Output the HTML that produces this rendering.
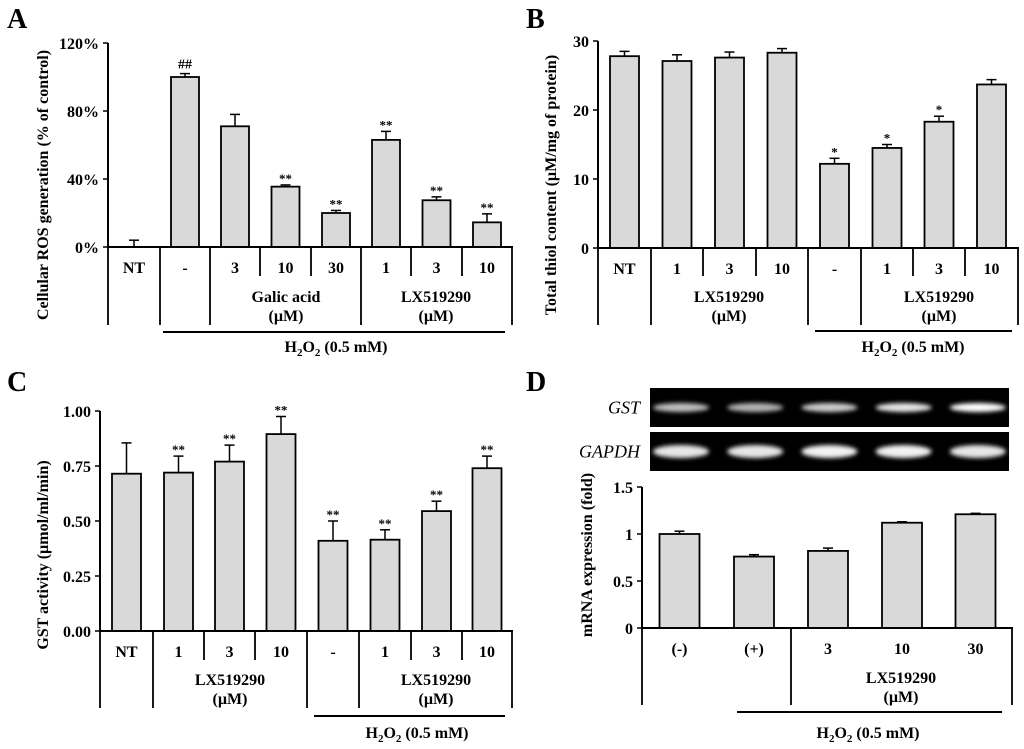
<!DOCTYPE html>
<html><head><meta charset="utf-8"><style>
html,body{margin:0;padding:0;background:#fff;}
svg{display:block;font-family:"Liberation Serif",serif;font-weight:bold;}
</style></head><body>
<svg id="fig" width="1024" height="749" viewBox="0 0 1024 749" xmlns="http://www.w3.org/2000/svg">
<defs><filter id="blur" x="-50%" y="-100%" width="200%" height="300%"><feGaussianBlur stdDeviation="2.2"/></filter></defs>
</svg>
<script>
// Panel A data
const aCats = ["NT","-","3","10","30","1","3","10"];
const aVals = [0,100,71,35.5,20,63,27.5,14.5];
const aErrs = [4,2,7,1,1.5,5,2,5];
const aMarks = ["","##","","**","**","**","**","**"];
const aTicks = [0,40,80,120];
const aTickLabels = ["0%","40%","80%","120%"];
// Panel B data
const bCats = ["NT","1","3","10","-","1","3","10"];
const bVals = [27.8,27.1,27.6,28.3,12.2,14.5,18.3,23.7];
const bErrs = [0.7,0.9,0.8,0.6,0.8,0.5,0.8,0.7];
const bMarks = ["","","","","*","*","*",""];
const bTicks = [0,10,20,30];
const bTickLabels = ["0","10","20","30"];
// Panel C data
const cCats = ["NT","1","3","10","-","1","3","10"];
const cVals = [0.715,0.72,0.77,0.895,0.41,0.415,0.545,0.74];
const cErrs = [0.14,0.075,0.075,0.08,0.09,0.045,0.045,0.055];
const cMarks = ["","**","**","**","**","**","**","**"];
const cTicks = [0,0.25,0.5,0.75,1];
const cTickLabels = ["0.00","0.25","0.50","0.75","1.00"];
// Panel D data
const dCats = ["(-)","(+)","3","10","30"];
const dVals = [1.0,0.76,0.82,1.12,1.21];
const dErrs = [0.03,0.02,0.03,0.01,0.01];
const dTicks = [0,0.5,1,1.5];
const dTickLabels = ["0","0.5","1","1.5"];
const gstBand = [0.75,0.7,0.8,0.9,1.0];
const gapdhBand = [0.9,0.9,0.95,0.95,0.9];

const svg = document.getElementById('fig');
const NS = "http://www.w3.org/2000/svg";
function el(tag, attrs, parent){const e=document.createElementNS(NS,tag);for(const k in attrs)e.setAttribute(k,attrs[k]);(parent||svg).appendChild(e);return e;}
function txt(x,y,s,size,anchor,parent){const t=el('text',{x:x,y:y,'font-size':size,'text-anchor':anchor||'middle'},parent);t.textContent=s;return t;}

function drawPanel(id, L, cats, vals, errs, marks, ticks, tickLabels){
  const g = el('g',{});
  
  
  const ys = v => L.y0 - v / L.vmax * (L.y0 - L.yTop);
  const xs = i => L.bounds[i] + (L.bounds[i+1]-L.bounds[i])/2;
  const ax = el('line',{x1:L.bounds[0],y1:L.yTop,x2:L.bounds[0],y2:L.y0,stroke:'#000','stroke-width':2},g);
  
  
  ticks.forEach((t,i)=>{
    el('line',{x1:L.bounds[0]-5,y1:ys(t),x2:L.bounds[0],y2:ys(t),stroke:'#000','stroke-width':1.5},g);
    const tl = txt(L.bounds[0]-9, ys(t)+6, tickLabels[i], 16, 'end', g);
    
    
  });
  cats.forEach((c,i)=>{
    const cx = xs(i), top = ys(vals[i]);
    const b = el('rect',{x:cx-L.bw/2,y:top,width:L.bw,height:L.y0-top,fill:'#d9d9d9',stroke:'#000','stroke-width':1.8},g);
    
    
    const et = ys(vals[i]+errs[i]);
    el('line',{x1:cx,y1:top,x2:cx,y2:et,stroke:'#000','stroke-width':1.5},g);
    el('line',{x1:cx-5,y1:et,x2:cx+5,y2:et,stroke:'#000','stroke-width':1.5},g);
    if(marks && marks[i]){
      const m = txt(cx, et-5+(marks[i][0]==='*'?3:0), marks[i], marks[i][0]==='#'?14:13, 'middle', g);
      
      
    }
    const cl = txt(cx, L.tickY, c, 16, 'middle', g);
    
    
  });
  const xa = el('line',{x1:L.bounds[0],y1:L.y0,x2:L.bounds[L.bounds.length-1]+1,y2:L.y0,stroke:'#000','stroke-width':2},g);
  
  
  L.tall.forEach(x=>el('line',{x1:x,y1:L.y0,x2:x,y2:L.tallBot,stroke:'#000','stroke-width':1.8},g));
  L.short.forEach(x=>el('line',{x1:x,y1:L.y0,x2:x,y2:L.shortBot,stroke:'#000','stroke-width':1.8},g));
  return g;
}
function h2o2(x1,x2,ly,ty,cx,id){
  const l = el('line',{x1:x1,y1:ly,x2:x2,y2:ly,stroke:'#000','stroke-width':2});
  
  
  const t = el('text',{x:cx,y:ty,'font-size':16,'text-anchor':'middle'});
  t.innerHTML = 'H<tspan font-size="11" dy="4">2</tspan><tspan dy="-4">O</tspan><tspan font-size="11" dy="4">2</tspan><tspan dy="-4"> (0.5 mM)</tspan>';
  
  
}
function ylab(x,y,s,id){
  const t = el('text',{x:0,y:0,'font-size':16,'text-anchor':'middle',transform:`translate(${x},${y}) rotate(-90)`});
  t.textContent = s;
  
  
}
function plabel(x,y,s){
  const t = txt(x,y,s,28,'start');
  
  
}
function glabel(x,y,s,id){
  const t = txt(x,y,s,16,'middle');
  
  
}

// Panel A
plabel(7,28,'A');
drawPanel('panel-a',{y0:247,yTop:43,vmax:120,bw:28,tickY:273,
  bounds:[108,160,210,260,311,361,411,462,512],tall:[108,160,210,361,512],short:[260,311,411,462],tallBot:325,shortBot:276},
  aCats,aVals,aErrs,aMarks,aTicks,aTickLabels);
ylab(48,185,'Cellular ROS generation  (% of control)','panel-a');
glabel(286,302,'Galic acid','panel-a');glabel(286,321,'(µM)','panel-a');
glabel(436,302,'LX519290','panel-a');glabel(436,321,'(µM)','panel-a');
h2o2(163,505,332,352,336,'panel-a');

// Panel B
plabel(526,28,'B');
drawPanel('panel-b',{y0:248,yTop:41,vmax:30,bw:29,tickY:274,
  bounds:[598,651,703,756,808,861,913,965,1018],tall:[598,651,808,861,1018],short:[703,756,913,965],tallBot:325,shortBot:276},
  bCats,bVals,bErrs,bMarks,bTicks,bTickLabels);
ylab(556,185,'Total thiol content  (µM/mg of protein)','panel-b');
glabel(729,302,'LX519290','panel-b');glabel(729,321,'(µM)','panel-b');
glabel(939,302,'LX519290','panel-b');glabel(939,321,'(µM)','panel-b');
h2o2(815,1012,331,352,913,'panel-b');

// Panel C
plabel(7,391,'C');
drawPanel('panel-c',{y0:631,yTop:411,vmax:1,bw:29,tickY:657,
  bounds:[100,153,204,255,307,359,411,462,512],tall:[100,153,307,359,512],short:[204,255,411,462],tallBot:708,shortBot:660},
  cCats,cVals,cErrs,cMarks,cTicks,cTickLabels);
ylab(48,555,'GST activity (µmol/ml/min)','panel-c');
glabel(230,685,'LX519290','panel-c');glabel(230,704,'(µM)','panel-c');
glabel(436,685,'LX519290','panel-c');glabel(436,704,'(µM)','panel-c');
h2o2(314,505,716,738,417,'panel-c');

// Panel D
plabel(526,391,'D');
drawPanel('panel-d',{y0:628,yTop:487,vmax:1.5,bw:40,tickY:654,
  bounds:[642,717,791,865,939,1012],tall:[642,791,1012],short:[],tallBot:705,shortBot:705},
  dCats,dVals,dErrs,null,dTicks,dTickLabels);
ylab(592,555,'mRNA expression (fold)','panel-d');
glabel(901,683,'LX519290','panel-d');glabel(901,702,'(µM)','panel-d');
h2o2(737,1002,712,738,868,'panel-d');

// gels
function gel(y,h,vals,bh,id,label){
  const g = el('g',{});
  
  
  el('rect',{x:650,y:y,width:359,height:h,fill:'#000'},g);
  const bx = i => 642 + 74.2*i + 37;
  vals.forEach((v,i)=>{
    const c = Math.round(255*v);
    const e = el('ellipse',{cx:bx(i)+2,cy:y+h/2,rx:28,ry:bh,fill:`rgb(${c},${c},${c})`,filter:'url(#blur)'},g);
    
    
  });
  const t = el('text',{x:640,y:y+h/2+6,'font-size':18,'text-anchor':'end','font-style':'italic','font-weight':'normal'});
  t.textContent = label;
  
  
}
gel(388,39,gstBand,4.5,'gst-gel','GST');
gel(432,39,gapdhBand,6.5,'gapdh-gel','GAPDH');
</script>
</body></html>
